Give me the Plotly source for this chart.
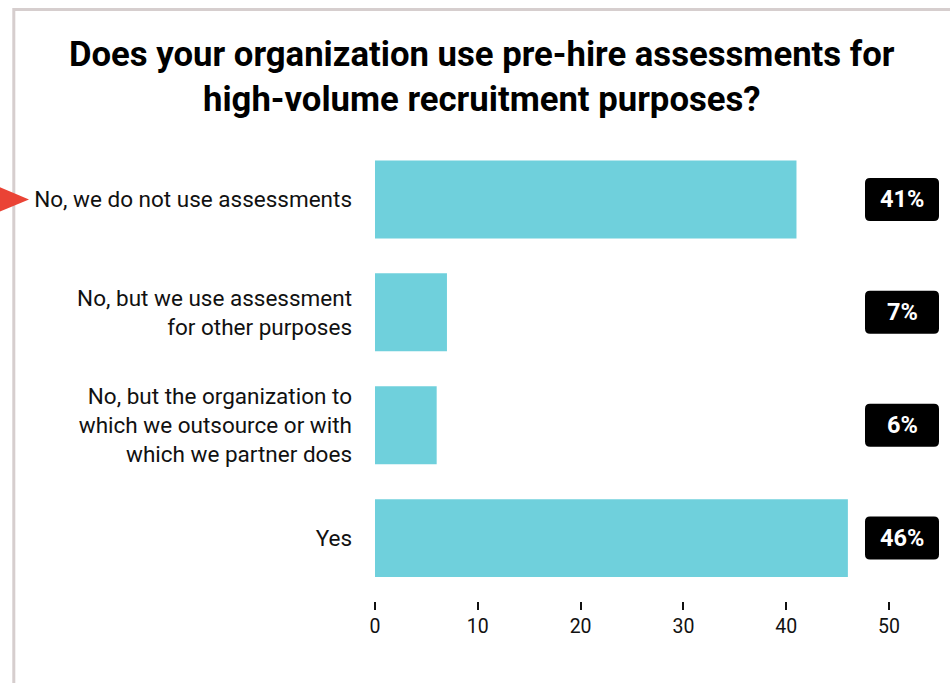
import plotly.graph_objects as go

# Survey responses (percent of organizations)
categories = [
    "No, we do not use assessments",
    "No, but we use assessment<br>for other purposes",
    "No, but the organization to<br>which we outsource or with<br>which we partner does",
    "Yes",
]
values = [41, 7, 6, 46]
value_labels = ["41%", "7%", "6%", "46%"]
x_ticks = [0, 10, 20, 30, 40, 50]

W, H = 950, 683
PLOT_L, PLOT_R = 375, 889
PLOT_T, PLOT_B = 142.5, 601

BAR_COLOR = "#6fd0dc"
FONT = "Roboto"


def px_to_paper(px, py):
    """Convert page pixel coordinates to paper coordinates."""
    return ((px - PLOT_L) / (PLOT_R - PLOT_L), (PLOT_B - py) / (PLOT_B - PLOT_T))


def rounded_box(x0, y0, x1, y1, r):
    a = px_to_paper
    def pt(px, py):
        u, v = a(px, py)
        return f"{u},{v}"
    return (
        f"M {pt(x0 + r, y0)} L {pt(x1 - r, y0)} Q {pt(x1, y0)} {pt(x1, y0 + r)} "
        f"L {pt(x1, y1 - r)} Q {pt(x1, y1)} {pt(x1 - r, y1)} "
        f"L {pt(x0 + r, y1)} Q {pt(x0, y1)} {pt(x0, y1 - r)} "
        f"L {pt(x0, y0 + r)} Q {pt(x0, y0)} {pt(x0 + r, y0)} Z"
    )


fig = go.Figure(
    go.Bar(
        x=values,
        y=categories,
        orientation="h",
        marker=dict(color=BAR_COLOR, line=dict(width=0)),
        width=0.69,
        hoverinfo="skip",
    )
)

ext = (PLOT_B - PLOT_T) / 113.0  # category units spanned by the plot height
fig.update_yaxes(
    range=[-0.5 + ext, -0.5],
    showgrid=False,
    zeroline=False,
    showline=False,
    ticks="",
    ticklabelstandoff=22,
    tickfont=dict(family=FONT, size=22.5, color="#111111"),
)
fig.update_xaxes(
    range=[0, 50],
    tickvals=x_ticks,
    ticktext=[str(t) for t in x_ticks],
    showgrid=False,
    zeroline=False,
    showline=False,
    ticks="outside",
    ticklen=8,
    tickwidth=2,
    tickcolor="#111111",
    tickfont=dict(family=FONT, size=19.5, color="#111111"),
)

shapes = []
annotations = []

# value badges to the right of the plot
bar_centers = [199, 312, 425, 538]
for lbl, cy in zip(value_labels, bar_centers):
    shapes.append(dict(
        type="path", xref="paper", yref="paper",
        path=rounded_box(865, cy - 21.5, 939, cy + 21.5, 5),
        fillcolor="#000000", line=dict(width=0), layer="above",
    ))
    xp, yp = px_to_paper(902, cy)
    annotations.append(dict(
        x=xp, y=yp, xref="paper", yref="paper", text=f"<b>{lbl}</b>",
        showarrow=False, xanchor="center", yanchor="middle",
        font=dict(family=FONT, size=23.5, color="#ffffff"),
    ))

# card border (top and left edges visible)
bx0, by0 = px_to_paper(13.8, 8.8)
bx1, by1 = px_to_paper(1000, 720)
shapes.append(dict(
    type="rect", xref="paper", yref="paper",
    x0=bx0, y0=by1, x1=bx1, y1=by0,
    line=dict(color="#d6cece", width=3), fillcolor="rgba(0,0,0,0)", layer="below",
))

# red pointer arrow next to the first category
p1 = px_to_paper(-2, 186)
p2 = px_to_paper(29, 199)
p3 = px_to_paper(-2, 212)
shapes.append(dict(
    type="path", xref="paper", yref="paper",
    path=f"M {p1[0]},{p1[1]} L {p2[0]},{p2[1]} L {p3[0]},{p3[1]} Z",
    fillcolor="#ea4335", line=dict(width=0), layer="above",
))

# two-line title
for text, cy in [("Does your organization use pre-hire assessments for", 53),
                 ("high-volume recruitment purposes?", 98)]:
    xp, yp = px_to_paper(482, cy)
    annotations.append(dict(
        x=xp, y=yp, xref="paper", yref="paper", text=f"<b>{text}</b>",
        showarrow=False, xanchor="center", yanchor="middle",
        font=dict(family=FONT, size=34.7, color="#000000"),
    ))

fig.update_layout(
    width=W, height=H,
    margin=dict(l=PLOT_L, r=W - PLOT_R, t=PLOT_T, b=H - PLOT_B, autoexpand=False),
    paper_bgcolor="#ffffff",
    plot_bgcolor="#ffffff",
    showlegend=False,
    shapes=shapes,
    annotations=annotations,
    font=dict(family=FONT),
)

fig.write_html("out.html", config={"displayModeBar": False})
